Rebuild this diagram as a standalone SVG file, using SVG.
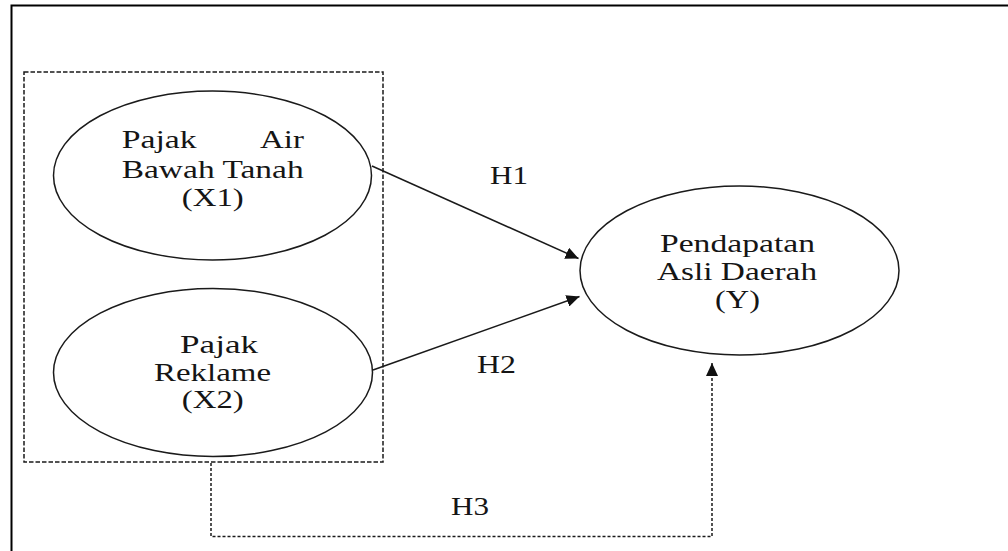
<svg xmlns="http://www.w3.org/2000/svg" width="1008" height="551" viewBox="0 0 1008 551">
<style>
.t{font-family:"Liberation Serif","Times New Roman",serif;font-size:25px;fill:#151515}
.e{fill:#fff;stroke:#1a1a1a;stroke-width:1.5}
.c{fill:none;stroke:#1a1a1a;stroke-width:1.5}
.d{fill:none;stroke:#1a1a1a;stroke-width:1.5;stroke-dasharray:4.5 2}
</style>
<defs>
<marker id="ah" markerUnits="userSpaceOnUse" markerWidth="14" markerHeight="12" refX="13" refY="6" orient="auto">
<path d="M0,0 L13,6 L0,12 Z" fill="#111"/>
</marker>
</defs>
<rect width="1008" height="551" fill="#fff"/>
<path d="M11.5,551 V5.5 H1008" fill="none" stroke="#000" stroke-width="2"/>
<g id="group-x">
<rect x="24" y="72" width="359" height="390" class="d"/>
</g>
<g id="x1">
<ellipse cx="212.5" cy="175.5" rx="159" ry="84.5" class="e"/>
<g transform="scale(1.3,1)">
<text class="t"><tspan x="93.6" y="148" textLength="57.7" lengthAdjust="spacingAndGlyphs">Pajak</tspan><tspan x="200" y="148" textLength="33.8" lengthAdjust="spacingAndGlyphs">Air</tspan></text>
<text class="t" x="93.6" y="178" textLength="140" lengthAdjust="spacingAndGlyphs">Bawah Tanah</text>
<text class="t" x="139.8" y="206" textLength="47.7" lengthAdjust="spacingAndGlyphs">(X1)</text>
</g>
</g>
<g id="x2">
<ellipse cx="213" cy="372.5" rx="159.5" ry="84" class="e"/>
<g transform="scale(1.3,1)">
<text class="t" x="138.5" y="353" textLength="60" lengthAdjust="spacingAndGlyphs">Pajak</text>
<text class="t" x="118.5" y="381" textLength="90" lengthAdjust="spacingAndGlyphs">Reklame</text>
<text class="t" x="139.8" y="408" textLength="47.7" lengthAdjust="spacingAndGlyphs">(X2)</text>
</g>
</g>
<g id="y">
<ellipse cx="739.5" cy="270.5" rx="159.5" ry="84.5" class="e"/>
<g transform="scale(1.3,1)">
<text class="t" x="507.7" y="252" textLength="119.2" lengthAdjust="spacingAndGlyphs">Pendapatan</text>
<text class="t" x="505.4" y="280" textLength="123.1" lengthAdjust="spacingAndGlyphs">Asli Daerah</text>
<text class="t" x="550" y="308" textLength="34.6" lengthAdjust="spacingAndGlyphs">(Y)</text>
</g>
</g>
<g id="connectors">
<line x1="372" y1="166" x2="578.5" y2="258.5" class="c" marker-end="url(#ah)"/>
<line x1="373" y1="370" x2="579.5" y2="296.5" class="c" marker-end="url(#ah)"/>
<path d="M211,463 V536.5 H712 V363" class="c" stroke-dasharray="3 2" marker-end="url(#ah)"/>
<g transform="scale(1.3,1)">
<text class="t" x="376.9" y="184" textLength="29.2" lengthAdjust="spacingAndGlyphs">H1</text>
<text class="t" x="366.9" y="373" textLength="30" lengthAdjust="spacingAndGlyphs">H2</text>
<text class="t" x="346.9" y="515" textLength="29.2" lengthAdjust="spacingAndGlyphs">H3</text>
</g>
</g>
</svg>
